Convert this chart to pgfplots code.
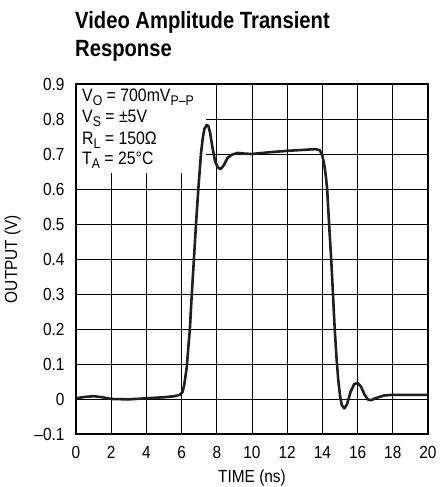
\documentclass[border=0pt]{standalone}
\usepackage{fontspec}
\setmainfont{Liberation Sans}[FakeStretch=0.88]
\newfontfamily\titlefont{Liberation Sans}[FakeStretch=0.86]
\usepackage{pgfplots}
\pgfplotsset{compat=1.18}
\usetikzlibrary{calc}
\newcommand\sub[1]{\raisebox{-0.35ex}{\fontsize{14}{14}\selectfont #1}}
\begin{document}
\begin{tikzpicture}
\begin{axis}[
  name=ax,
  scale only axis,
  width=352pt, height=350pt,
  xmin=0, xmax=20, ymin=-0.1, ymax=0.9,
  xtick={0,2,...,20},
  ytick={-0.1,0,0.1,0.2,0.3,0.4,0.5,0.6,0.7,0.8,0.9},
  yticklabels={–0.1,0,0.1,0.2,0.3,0.4,0.5,0.6,0.7,0.8,0.9},
  /pgf/number format/assume math mode=true,
  tick label style={font=\fontsize{17.5}{17.5}\selectfont},
  grid=major,
  major grid style={black, line width=0.8pt},
  axis line style={black, line width=1.3pt},
  tick style={draw=none},
  xticklabel style={yshift=-9pt},
  yticklabel style={xshift=-8pt},
  xlabel={TIME (ns)},
  ylabel={OUTPUT (V)},
  label style={font=\fontsize{17.5}{17.5}\selectfont},
  xlabel style={yshift=-4pt},
  ylabel style={yshift=7pt},
]
\fill[white] (axis cs:0.05,0.645) rectangle (axis cs:7.4,0.896);
\addplot[line width=2.6pt, color=black!88, line join=round] coordinates {
(0,0.002) (0.5,0.006) (1,0.008) (1.5,0.005) (2,0.0) (3,-0.001) (4,0.002) (5,0.005)
(5.6,0.008) (5.9,0.012) (6.05,0.02) (6.15,0.04) (6.29,0.09) (6.47,0.2) (6.58,0.3) (6.7,0.4)
(6.82,0.5) (6.95,0.6) (7.1,0.7) (7.2,0.745) (7.3,0.772) (7.42,0.783) (7.52,0.78) (7.62,0.76)
(7.75,0.72) (7.9,0.68) (8.05,0.662) (8.22,0.657) (8.4,0.668) (8.6,0.688) (8.85,0.698)
(9.2,0.703) (9.6,0.701) (10,0.700) (11,0.705) (12,0.709) (13,0.712) (13.6,0.714)
(13.85,0.711) (14.0,0.695) (14.12,0.665) (14.2,0.635) (14.27,0.6) (14.38,0.5) (14.5,0.4)
(14.6,0.3) (14.7,0.2) (14.8,0.12) (14.9,0.055) (15.0,0.01) (15.1,-0.017) (15.25,-0.027)
(15.4,-0.015) (15.6,0.02) (15.8,0.042) (16.0,0.046) (16.2,0.035) (16.4,0.012) (16.6,-0.002)
(16.8,-0.003) (17,0.002) (17.5,0.01) (18,0.012) (19,0.012) (20,0.012)
};
\end{axis}
\begin{scope}[font=\fontsize{18}{18}\selectfont]
\node[anchor=base west, inner sep=0pt] at ($(ax.north west)+(6pt,-18pt)$) {V\sub{O} = 700mV\sub{P–P}};
\node[anchor=base west, inner sep=0pt] at ($(ax.north west)+(6pt,-39pt)$) {V\sub{S} = ±5V};
\node[anchor=base west, inner sep=0pt] at ($(ax.north west)+(6pt,-61pt)$) {R\sub{L} = 150Ω};
\node[anchor=base west, inner sep=0pt] at ($(ax.north west)+(6pt,-81pt)$) {T\sub{A} = 25°C};
\end{scope}
\node[anchor=base west, inner sep=0pt, font=\titlefont\bfseries\fontsize{23.5}{23.5}\selectfont] at ($(ax.north west)+(-1pt,55pt)$) {Video Amplitude Transient};
\node[anchor=base west, inner sep=0pt, font=\titlefont\bfseries\fontsize{23.5}{23.5}\selectfont] at ($(ax.north west)+(-1pt,27pt)$) {Response};
\pgfresetboundingbox
\path[use as bounding box] ($(ax.south west)+(-76pt,-53pt)$) rectangle ($(ax.north east)+(14pt,84pt)$);
\end{tikzpicture}
\end{document}
